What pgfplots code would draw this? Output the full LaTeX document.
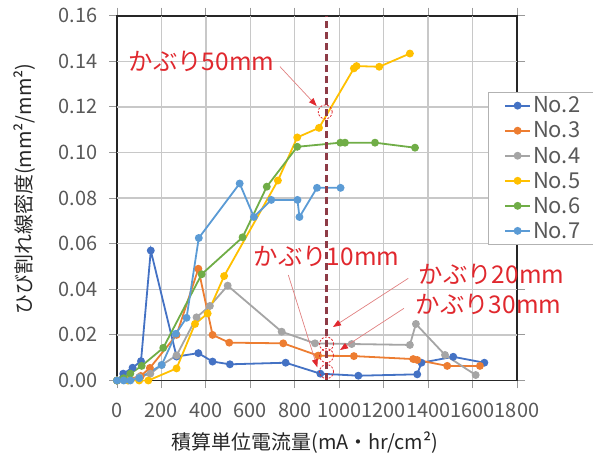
\documentclass[border=0pt]{standalone}
\usepackage{fontspec}
\setmainfont{Noto Sans CJK JP}
\usepackage{pgfplots}
\pgfplotsset{compat=1.18}
\usetikzlibrary{arrows.meta}
\definecolor{c2}{HTML}{4472C4}
\definecolor{c3}{HTML}{ED7D31}
\definecolor{c4}{HTML}{A5A5A5}
\definecolor{c5}{HTML}{FFC000}
\definecolor{c6}{HTML}{70AD47}
\definecolor{c7}{HTML}{5B9BD5}
\definecolor{annot}{HTML}{E0282E}
\definecolor{arrowc}{HTML}{E08080}
\definecolor{vline}{HTML}{8E3B46}
\definecolor{gridc}{HTML}{C8C8C8}
\definecolor{txt}{HTML}{595959}
\begin{document}
\begin{tikzpicture}[x=1bp,y=1bp]
\path[use as bounding box] (0,0) rectangle (593,454);
\begin{axis}[
  at={(117bp,73.5bp)}, anchor=south west,
  width=400bp, height=364.8bp, scale only axis,
  xmin=0, xmax=1800, ymin=0, ymax=0.16,
  xtick={0,200,400,600,800,1000,1200,1400,1600,1800},
  ytick={0,0.02,0.04,0.06,0.08,0.1,0.12,0.14,0.16},
  % grid only on interior lines, so the black frame stays on top
  extra x ticks={200,400,600,800,1000,1200,1400,1600},
  extra y ticks={0.02,0.04,0.06,0.08,0.1,0.12,0.14},
  extra x tick labels={}, extra y tick labels={},
  extra tick style={grid=major, major tick length=0pt},
  grid style={gridc, line width=1.3bp},
  axis line style={black!85, line width=1.8bp},
  tick align=outside, major tick length=8bp,
  tick style={gray!80, line width=1bp},
  /pgf/number format/assume math mode=true,
  scaled y ticks=false,
  xticklabel style={font=\fontsize{20}{22}\selectfont, text=txt, yshift=-11bp,
    /pgf/number format/1000 sep={}},
  yticklabel style={font=\fontsize{20}{22}\selectfont, text=txt, xshift=-8bp,
    /pgf/number format/.cd, fixed, fixed zerofill, precision=2},
  xlabel={積算単位電流量(mA・hr/cm²)},
  ylabel={ひび割れ線密度(mm²/mm²)},
  xlabel style={at={(axis description cs:0.47,-0.171)}, anchor=center,
    font=\fontsize{20}{22}\selectfont, text=black!85},
  ylabel style={at={(axis description cs:-0.23,0.525)}, anchor=center,
    font=\fontsize{20}{22}\selectfont, text=black!85},
  legend style={at={(0.9275,0.7917)}, anchor=north west, draw=gray!60,
    fill=white, font=\fontsize{22}{24}\selectfont, text=txt,
    row sep=3.5bp, inner xsep=16bp, inner ysep=3bp},
  legend cell align=left,
  legend image code/.code={\draw[mark repeat=2,mark phase=2,#1]
    plot coordinates {(0bp,0bp) (12.5bp,0bp) (25bp,0bp)};},
  clip=false,
  every axis plot/.append style={line width=1.8bp, mark=*, mark size=3bp},
]
\addplot[color=c2, mark options={fill=c2}] coordinates {
  (0,0) (28,0.003) (70,0.0056) (108,0.0085) (152,0.057) (268,0.0105)
  (366,0.012) (430,0.0083) (508,0.0071) (759,0.0078) (915,0.0030)
  (1086,0.0021) (1351,0.0027) (1370,0.0078) (1513,0.0104) (1653,0.0078)};
\addlegendentry{No.2}
\addplot[color=c3, mark options={fill=c3}] coordinates {
  (0,0) (50,0.0005) (107,0.002) (148,0.0055) (268,0.020) (366,0.049)
  (430,0.020) (505,0.0166) (748,0.0163) (905,0.0109) (1066,0.0107)
  (1333,0.0094) (1351,0.009) (1486,0.0064) (1633,0.0064)};
\addlegendentry{No.3}
\addplot[color=c4, mark options={fill=c4}] coordinates {
  (0,0) (50,0) (100,0.0015) (150,0.003) (201,0.0068) (268,0.011)
  (358,0.0277) (418,0.0327) (498,0.0416) (741,0.0214) (891,0.0163)
  (1056,0.016) (1318,0.0156) (1345,0.0248) (1476,0.0112) (1614,0.0024)};
\addlegendentry{No.4}
\addplot[color=c5, mark options={fill=c5}] coordinates {
  (0,0) (50,0) (100,0) (141,0) (268,0.0053) (351,0.0248) (408,0.0294)
  (482,0.0458) (724,0.0877) (811,0.1066) (909,0.1108) (1066,0.1369)
  (1078,0.1379) (1180,0.1376) (1318,0.1434)};
\addlegendentry{No.5}
\addplot[color=c6, mark options={fill=c6}] coordinates {
  (0,0) (30,0.001) (60,0.003) (111,0.0064) (208,0.0143) (381,0.0466)
  (565,0.0628) (674,0.085) (811,0.1025) (1005,0.1043) (1026,0.1043)
  (1161,0.1043) (1341,0.1021)};
\addlegendentry{No.6}
\addplot[color=c7, mark options={fill=c7}] coordinates {
  (0,0) (30,0) (60,0) (100,0.001) (201,0.0068) (265,0.0205) (313,0.0275)
  (368,0.0625) (552,0.0864) (616,0.0717) (694,0.0792) (812,0.0792)
  (821,0.0717) (900,0.0845) (1006,0.0845)};
\addlegendentry{No.7}
% cover line and marked points
\addplot[forget plot, mark=none, vline, line width=2.2bp,
  dash pattern=on 7bp off 4bp] coordinates {(943,0) (943,0.16)};
\addplot[forget plot, only marks, mark=o, mark size=7bp,
  mark options={draw=annot, line width=0.8bp, dash pattern=on 2bp off 1.5bp}]
  coordinates {(943,0.0039) (943,0.0109) (943,0.016) (937,0.1178)};
\end{axis}
\tikzset{lbl/.style={text=annot, font=\fontsize{24.5}{26}\selectfont, inner sep=0pt},
  arr/.style={draw=arrowc, line width=0.7bp,
    -{Triangle[length=8bp,width=6bp,color=annot]}}}
\node[lbl] at (201.5,393) {かぶり50mm};
\node[lbl] at (326.5,198) {かぶり10mm};
\node[lbl] at (491.5,180) {かぶり20mm};
\node[lbl] at (488.5,150) {かぶり30mm};
\draw[arr] (280,387.3) -- (316.7,348);
\draw[arr] (288.3,179) -- (317.3,86.7);
\draw[arr] (408.3,175.7) -- (333,127);
\draw[arr] (404,145.7) -- (340,104);
\end{tikzpicture}
\end{document}
